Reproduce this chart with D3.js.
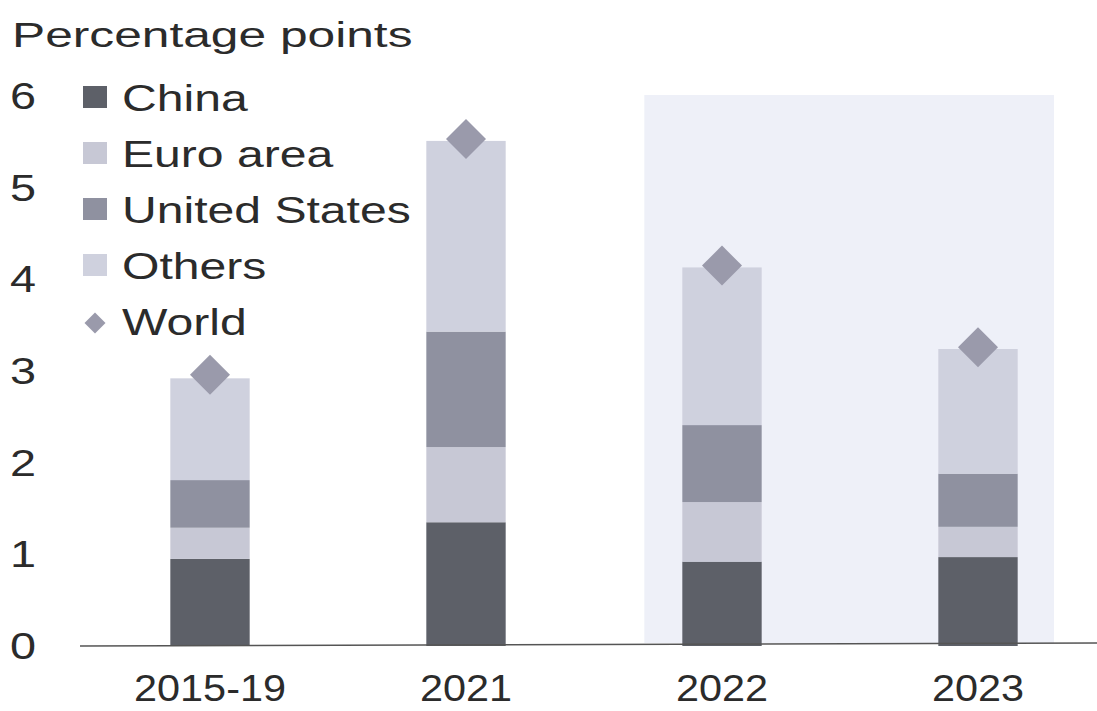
<!DOCTYPE html>
<html>
<head>
<meta charset="utf-8">
<script src="https://cdn.jsdelivr.net/npm/d3@7"></script>
<style>
  body { margin: 0; background: #fff; }
  text { font-family: "Liberation Sans", Arial, sans-serif; fill: #2b2b2b; }
</style>
</head>
<body>
<svg id="chart" width="1097" height="711"></svg>
<script>
var categories = ["2015-19", "2021", "2022", "2023"];
var seriesNames = ["China", "Euro area", "United States", "Others"];
var china = [0.95, 1.35, 0.92, 0.97];
var euroArea = [0.34, 0.82, 0.65, 0.33];
var unitedStates = [0.52, 1.26, 0.84, 0.58];
var others = [1.11, 2.08, 1.72, 1.36];
var world = [2.96, 5.53, 4.15, 3.26];
var yTicks = [0, 1, 2, 3, 4, 5, 6];
var shadedFrom = "2022";

var COLORS = ["#5d6068", "#c7c8d5", "#8f91a0", "#cfd1de"];
var WORLD_COLOR = "#9a9aab";
var SHADE_COLOR = "#eef0f8";

var svg = d3.select("#chart");

var x = d3.scaleBand()
    .domain(categories)
    .range([82, 1106])
    .paddingInner(0.69)
    .paddingOuter(0.345);

var y = d3.scaleLinear()
    .domain([0, 6])
    .range([646, 96]);

// stretched text, the scan is wider than a normal font
function stretchText(g, str, tx, ty, size, sx, anchor) {
    return g.append("text")
        .attr("transform", "translate(" + tx + "," + ty + ") scale(" + sx + ",1)")
        .attr("text-anchor", anchor || "start")
        .style("font-size", size + "px")
        .text(str);
}

// projection shading
var shadeStart = x(shadedFrom) - 38;
svg.append("rect")
    .attr("x", shadeStart)
    .attr("y", y(6) - 1)
    .attr("width", 1054 - shadeStart)
    .attr("height", y(0) - y(6) - 2)
    .style("fill", SHADE_COLOR);

// stacked bars
var rows = categories.map(function(c, i) {
    return {cat: c, "China": china[i], "Euro area": euroArea[i],
            "United States": unitedStates[i], "Others": others[i]};
});
var stacked = d3.stack().keys(seriesNames)(rows);

svg.append("g").selectAll("g")
    .data(stacked)
    .join("g")
    .style("fill", function(d, i) { return COLORS[i]; })
    .selectAll("rect")
    .data(function(d) { return d; })
    .join("rect")
    .attr("x", function(d) { return x(d.data.cat); })
    .attr("y", function(d) { return y(d[1]); })
    .attr("width", x.bandwidth())
    .attr("height", function(d) { return y(d[0]) - y(d[1]); });

// world diamonds
var diamond = d3.symbol().type(d3.symbolSquare).size(800);
svg.append("g").selectAll("path")
    .data(world)
    .join("path")
    .attr("d", diamond)
    .attr("transform", function(d, i) {
        return "translate(" + (x(categories[i]) + x.bandwidth() / 2) + "," + y(d) + ") rotate(45)";
    })
    .style("fill", WORLD_COLOR);

// zero line
svg.append("line")
    .attr("x1", 80).attr("x2", 1097)
    .attr("y1", y(0)).attr("y2", y(0) - 3)
    .style("stroke", "#555")
    .style("stroke-width", 1.5);

// y tick labels
var yAxis = svg.append("g");
yTicks.forEach(function(t) {
    stretchText(yAxis, String(t), 10, y(t) + 13, 36, 1.3);
});

// x labels
var xAxis = svg.append("g");
categories.forEach(function(c) {
    stretchText(xAxis, c, x(c) + x.bandwidth() / 2, 701, 37, 1.12, "middle");
});

// title
stretchText(svg, "Percentage points", 12, 47, 35, 1.42);

// legend
var legend = svg.append("g");
var legendNames = seriesNames.concat(["World"]);
legendNames.forEach(function(name, i) {
    var cy = 97 + i * 56;
    if (i < 4) {
        legend.append("rect")
            .attr("x", 83).attr("y", cy - 11)
            .attr("width", 24).attr("height", 22)
            .style("fill", COLORS[i]);
    } else {
        legend.append("path")
            .attr("d", d3.symbol().type(d3.symbolSquare).size(220))
            .attr("transform", "translate(95," + (cy + 2) + ") rotate(45)")
            .style("fill", WORLD_COLOR);
    }
    stretchText(legend, name, 122, cy + 14, 37, 1.3);
});
</script>
</body>
</html>
